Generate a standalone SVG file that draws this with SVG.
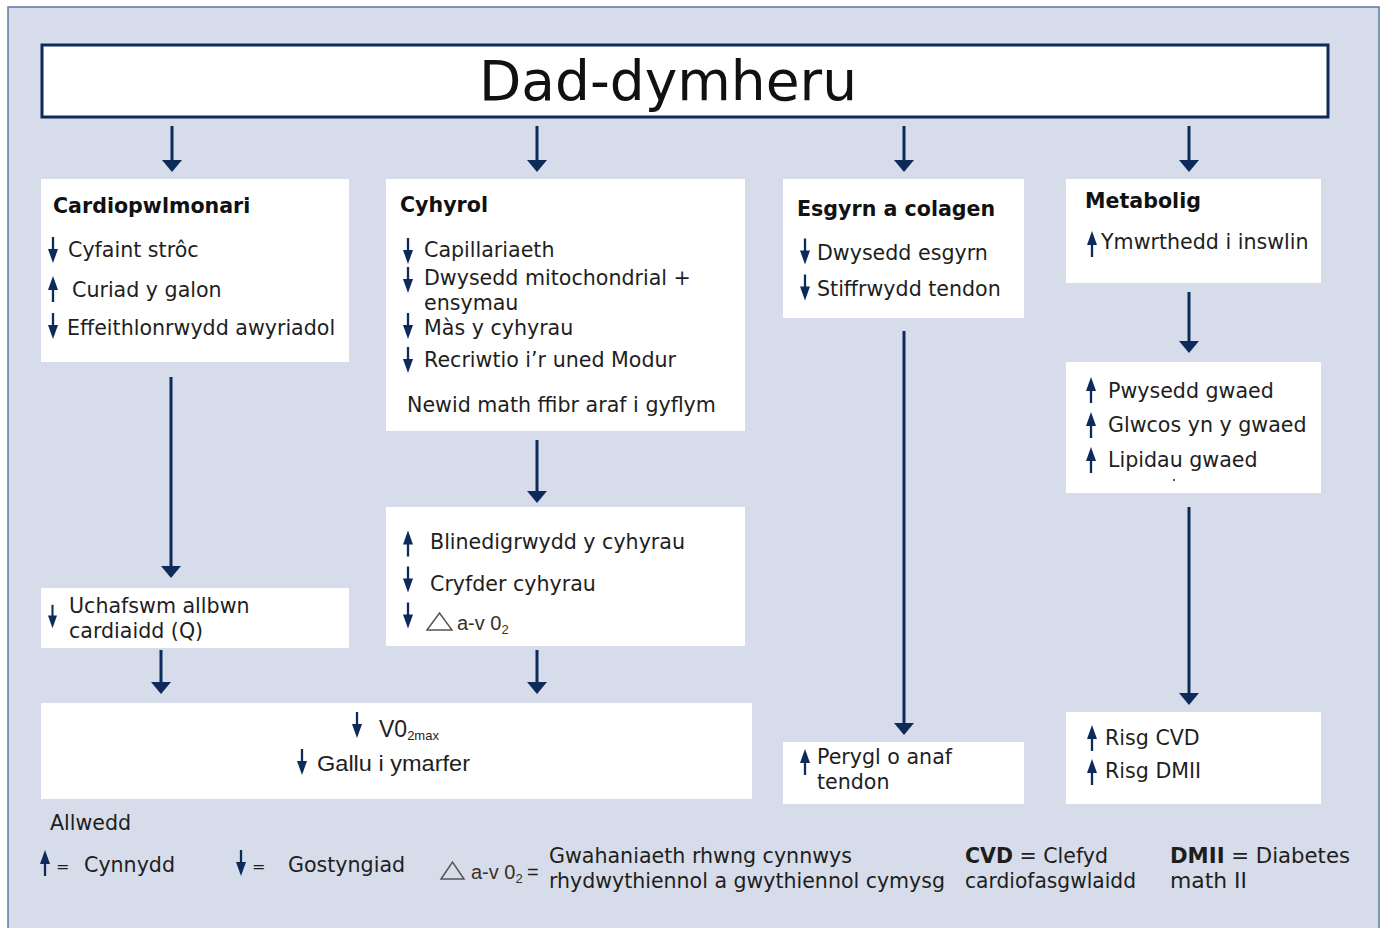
<svg xmlns="http://www.w3.org/2000/svg" xmlns:xlink="http://www.w3.org/1999/xlink" width="1386" height="928" viewBox="0 0 1386 928">
<style>
.box{fill:#ffffff;}
.t{font-family:"DejaVu Sans",Verdana,sans-serif;font-size:20.6px;fill:#1e1e1e;}
.h{font-family:"DejaVu Sans",Verdana,sans-serif;font-size:20.6px;font-weight:bold;fill:#111;}
.n{font-family:"Liberation Sans",Arial,sans-serif;fill:#1e1e1e;}
.c{stroke:#0d2b5a;stroke-width:3;fill:none;marker-end:url(#ah);}
.tri{fill:none;stroke:#555;stroke-width:1.5;}
</style>
<defs>
<marker id="ah" markerUnits="userSpaceOnUse" viewBox="0 -10 12 20" refX="6" refY="0" markerWidth="12" markerHeight="20" orient="auto">
<path d="M0,-10 L12,0 L0,10 z" fill="#0d2b5a"/>
</marker>
<symbol id="dn" viewBox="0 0 10 26" overflow="visible">
<line x1="5" y1="0" x2="5" y2="15" stroke="#0d2b5a" stroke-width="2.3"/>
<path d="M0,12 L10,12 L5,26 z" fill="#0d2b5a"/>
</symbol>
<symbol id="up" viewBox="0 0 10 26" overflow="visible">
<line x1="5" y1="11" x2="5" y2="26" stroke="#0d2b5a" stroke-width="2.3"/>
<path d="M0,14 L10,14 L5,0 z" fill="#0d2b5a"/>
</symbol>
</defs>
<rect x="0" y="0" width="1386" height="928" fill="#ffffff"/>
<rect x="8" y="7" width="1371" height="930" fill="#d6dce9" stroke="#5b7aa3" stroke-width="1.5"/>

<g id="title">
<rect x="42" y="45" width="1286" height="72" fill="#ffffff" stroke="#0d2b5a" stroke-width="3"/>
<text x="668" y="100" text-anchor="middle" style="font-family:'DejaVu Sans',Verdana,sans-serif;font-size:55px;fill:#111;">Dad-dymheru</text>
</g>

<g id="connectors">
<line class="c" x1="172" y1="126" x2="172" y2="166"/>
<line class="c" x1="537" y1="126" x2="537" y2="166"/>
<line class="c" x1="904" y1="126" x2="904" y2="166"/>
<line class="c" x1="1189" y1="126" x2="1189" y2="166"/>
<line class="c" x1="171" y1="377" x2="171" y2="572"/>
<line class="c" x1="537" y1="440" x2="537" y2="497"/>
<line class="c" x1="161" y1="650" x2="161" y2="688"/>
<line class="c" x1="537" y1="650" x2="537" y2="688"/>
<line class="c" x1="904" y1="331" x2="904" y2="729"/>
<line class="c" x1="1189" y1="292" x2="1189" y2="347"/>
<line class="c" x1="1189" y1="507" x2="1189" y2="699"/>
</g>

<g id="cardio">
<rect class="box" x="41" y="179" width="308" height="183"/>
<text class="h" x="53" y="213">Cardiopwlmonari</text>
<use xlink:href="#dn" x="48" y="237" width="10" height="26"/>
<text class="t" x="68" y="257">Cyfaint strôc</text>
<use xlink:href="#up" x="48" y="276" width="10" height="26"/>
<text class="t" x="72" y="297">Curiad y galon</text>
<use xlink:href="#dn" x="48" y="313" width="10" height="26"/>
<text class="t" x="67" y="335">Effeithlonrwydd awyriadol</text>
</g>

<g id="cyhyrol">
<rect class="box" x="386" y="179" width="359" height="252"/>
<text class="h" x="400" y="212">Cyhyrol</text>
<use xlink:href="#dn" x="403" y="238" width="10" height="26"/>
<text class="t" x="424" y="257">Capillariaeth</text>
<use xlink:href="#dn" x="403" y="267" width="10" height="26"/>
<text class="t" x="424" y="285">Dwysedd mitochondrial +</text>
<text class="t" x="424" y="310">ensymau</text>
<use xlink:href="#dn" x="403" y="313" width="10" height="26"/>
<text class="t" x="424" y="335">Màs y cyhyrau</text>
<use xlink:href="#dn" x="403" y="347" width="10" height="26"/>
<text class="t" x="424" y="367">Recriwtio i’r uned Modur</text>
<text class="t" x="407" y="412">Newid math ffibr araf i gyflym</text>
</g>

<g id="esgyrn">
<rect class="box" x="783" y="179" width="241" height="139"/>
<text class="h" x="797" y="216">Esgyrn a colagen</text>
<use xlink:href="#dn" x="800" y="238" width="10" height="27"/>
<text class="t" x="817" y="260">Dwysedd esgyrn</text>
<use xlink:href="#dn" x="800" y="274" width="10" height="27"/>
<text class="t" x="817" y="296">Stiffrwydd tendon</text>
</g>

<g id="metabolig">
<rect class="box" x="1066" y="179" width="255" height="104"/>
<text class="h" x="1085" y="208">Metabolig</text>
<use xlink:href="#up" x="1087" y="230" width="10" height="28"/>
<text class="t" x="1101" y="249">Ymwrthedd i inswlin</text>
</g>

<g id="pwysedd">
<rect class="box" x="1066" y="362" width="255" height="131"/>
<use xlink:href="#up" x="1086" y="376" width="10" height="28"/>
<text class="t" x="1108" y="398">Pwysedd gwaed</text>
<use xlink:href="#up" x="1086" y="411" width="10" height="28"/>
<text class="t" x="1108" y="432">Glwcos yn y gwaed</text>
<use xlink:href="#up" x="1086" y="446" width="10" height="28"/>
<text class="t" x="1108" y="467">Lipidau gwaed</text>
<circle cx="1174" cy="480" r="1" fill="#0d2b5a"/>
</g>

<g id="uchafswm">
<rect class="box" x="41" y="588" width="308" height="60"/>
<use xlink:href="#dn" x="48" y="603" width="9" height="27"/>
<text class="t" x="69" y="613">Uchafswm allbwn</text>
<text class="t" x="69" y="638">cardiaidd (Q)</text>
</g>

<g id="blinedig">
<rect class="box" x="386" y="507" width="359" height="139"/>
<use xlink:href="#up" x="403" y="530" width="10" height="27"/>
<text class="t" x="430" y="549">Blinedigrwydd y cyhyrau</text>
<use xlink:href="#dn" x="403" y="566" width="10" height="27"/>
<text class="t" x="430" y="591">Cryfder cyhyrau</text>
<use xlink:href="#dn" x="403" y="602" width="10" height="27"/>
<path class="tri" d="M427,630 L439.5,613 L452,630 z"/>
<text class="n" x="457" y="630" style="font-size:20px;fill:#3a2f25;">a-v 0<tspan dy="4" style="font-size:13px;">2</tspan></text>
</g>

<g id="vo2">
<rect class="box" x="41" y="703" width="711" height="96"/>
<use xlink:href="#dn" x="352" y="711" width="10" height="28"/>
<text class="n" x="379" y="737" style="font-size:23px;">V0<tspan dy="3" style="font-size:13px;">2max</tspan></text>
<use xlink:href="#dn" x="297" y="748" width="10" height="28"/>
<text class="n" x="317" y="771" style="font-size:22px;" textLength="153" lengthAdjust="spacingAndGlyphs">Gallu i ymarfer</text>
</g>

<g id="perygl">
<rect class="box" x="783" y="742" width="241" height="62"/>
<use xlink:href="#up" x="800" y="748" width="10" height="28"/>
<text class="t" x="817" y="764">Perygl o anaf</text>
<text class="t" x="817" y="789">tendon</text>
</g>

<g id="risg">
<rect class="box" x="1066" y="712" width="255" height="92"/>
<use xlink:href="#up" x="1087" y="724" width="10" height="28"/>
<text class="t" x="1105" y="745">Risg CVD</text>
<use xlink:href="#up" x="1087" y="757" width="10" height="30"/>
<text class="t" x="1105" y="778">Risg DMII</text>
</g>

<g id="legend">
<text class="t" x="50" y="830">Allwedd</text>
<use xlink:href="#up" x="40" y="849" width="10" height="28"/>
<text class="t" x="56" y="872" style="font-size:16px;">=</text>
<text class="t" x="84" y="872">Cynnydd</text>
<use xlink:href="#dn" x="236" y="849" width="10" height="28"/>
<text class="t" x="252" y="872" style="font-size:16px;">=</text>
<text class="t" x="288" y="872">Gostyngiad</text>
<path class="tri" d="M441,879 L452.5,862 L464,879 z"/>
<text class="n" x="471" y="879" style="font-size:20px;fill:#3a2f25;">a-v 0<tspan dy="4" style="font-size:13px;">2</tspan></text>
<text class="n" x="527" y="879" style="font-size:20px;">=</text>
<text class="t" x="549" y="863" textLength="303" lengthAdjust="spacingAndGlyphs">Gwahaniaeth rhwng cynnwys</text>
<text class="t" x="549" y="888" textLength="396" lengthAdjust="spacingAndGlyphs">rhydwythiennol a gwythiennol cymysg</text>
<text class="t" x="965" y="863" textLength="143" lengthAdjust="spacingAndGlyphs"><tspan font-weight="bold">CVD</tspan> = Clefyd</text>
<text class="t" x="965" y="888" textLength="171" lengthAdjust="spacingAndGlyphs">cardiofasgwlaidd</text>
<text class="t" x="1170" y="863" textLength="180" lengthAdjust="spacingAndGlyphs"><tspan font-weight="bold">DMII</tspan> = Diabetes</text>
<text class="t" x="1170" y="888" textLength="77" lengthAdjust="spacingAndGlyphs">math II</text>
</g>
</svg>
